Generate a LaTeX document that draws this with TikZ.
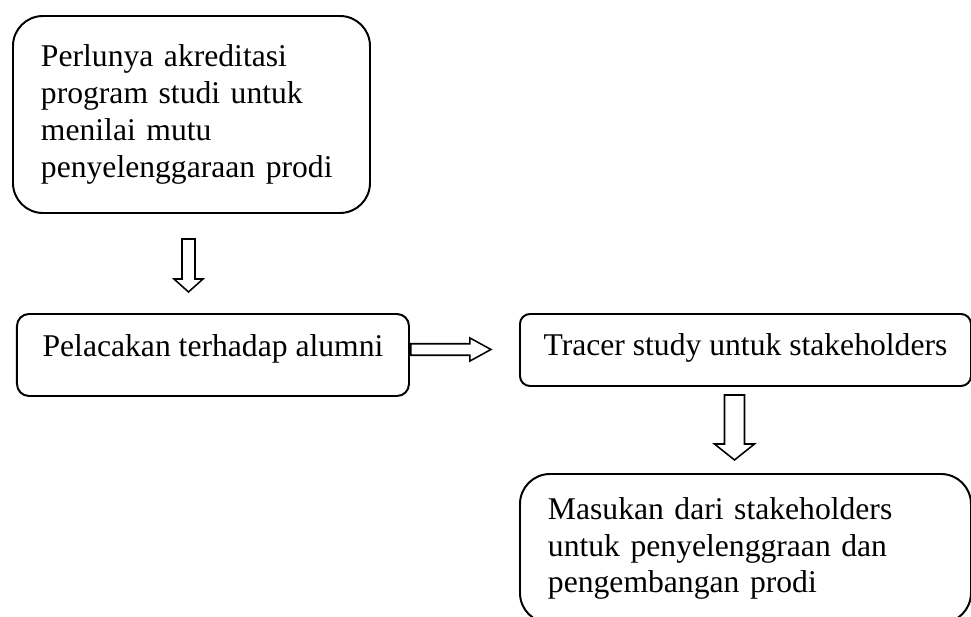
\documentclass[tikz,border=0pt]{standalone}
\usepackage{fontspec}
\setmainfont{Liberation Serif}
\usetikzlibrary{positioning}

\begin{document}
\begin{tikzpicture}[
    every node/.style={font=\fontsize{22.5}{26.2}\selectfont},
    bigbox/.style={draw, line width=1.4pt, rounded corners=0.75cm, align=left, anchor=north west},
    flatbox/.style={draw, line width=1.4pt, rounded corners=0.3cm, inner ysep=0pt, anchor=north west},
    blockarrow/.style={draw, line width=1.1pt, line join=miter}]
    \useasboundingbox (0,0) rectangle (24.275,-15.4) ;
    \clip (0,0) rectangle (24.275,-15.4) ;

    \node [bigbox, minimum width=8.925cm, minimum height=4.925cm, text width=7.525cm] (akreditasi) at (0.3,-0.375) {Perlunya akreditasi\\ program studi untuk\\ menilai mutu\\ penyelenggaraan prodi} ;
    \node [flatbox, minimum width=9.8cm, text height=1.075cm, text depth=0.975cm] (pelacakan) at (0.4,-7.825) {Pelacakan terhadap alumni} ;
    \node [flatbox, rounded corners=0.25cm, minimum width=11.275cm, text height=1.05cm, text depth=0.75cm] (tracer) at (12.975,-7.825) {Tracer study untuk stakeholders} ;
    \node [bigbox, minimum width=11.275cm, minimum height=3.725cm, text width=9.875cm] (masukan) at (12.975,-11.825) {Masukan dari stakeholders\\ untuk penyelenggraan dan\\ pengembangan prodi} ;

    \coordinate [below=0.625cm of akreditasi.south, xshift=-0.075cm] (panah1) ;
    \draw [blockarrow] (panah1) ++(-0.1625,0) -- ++(0,-1) -- ++(-0.2,0) -- ++(0.3625,-0.325) -- ++(0.3625,0.325) -- ++(-0.2,0) -- ++(0,1) -- cycle ;

    \coordinate [right=0.025cm of pelacakan.east, yshift=0.1375cm] (panah2) ;
    \draw [blockarrow] (panah2) ++(0,0.14375) -- ++(1.475,0) -- ++(0,0.14375) -- ++(0.525,-0.2875) -- ++(-0.525,-0.2875) -- ++(0,0.14375) -- ++(-1.475,0) -- cycle ;

    \coordinate [below=0.2cm of tracer.south, xshift=-0.275cm] (panah3) ;
    \draw [blockarrow] (panah3) ++(-0.25,0) -- ++(0,-1.225) -- ++(-0.25,0) -- ++(0.5,-0.4) -- ++(0.5,0.4) -- ++(-0.25,0) -- ++(0,1.225) -- cycle ;
\end{tikzpicture}
\end{document}
